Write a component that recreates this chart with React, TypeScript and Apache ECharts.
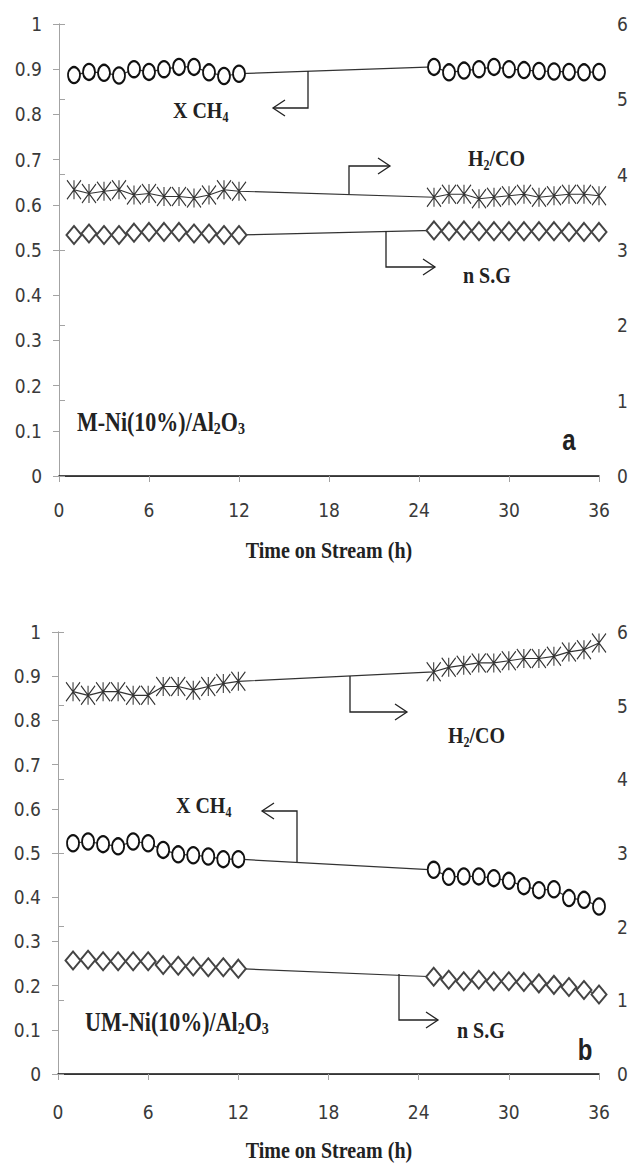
import React, { useEffect, useRef } from "react";
import * as echarts from "echarts";

const hours = [1, 2, 3, 4, 5, 6, 7, 8, 9, 10, 11, 12, 25, 26, 27, 28, 29, 30, 31, 32, 33, 34, 35, 36];

// Panel a: M-Ni(10%)/Al2O3
const xch4A = [0.887, 0.894, 0.892, 0.886, 0.9, 0.894, 0.9, 0.905, 0.905, 0.893, 0.885, 0.89, 0.905, 0.893, 0.897, 0.9, 0.905, 0.9, 0.898, 0.896, 0.895, 0.894, 0.893, 0.894];
const h2coA = [3.8, 3.75, 3.78, 3.8, 3.73, 3.75, 3.71, 3.71, 3.69, 3.73, 3.8, 3.78, 3.7, 3.74, 3.74, 3.68, 3.7, 3.72, 3.74, 3.7, 3.72, 3.74, 3.74, 3.72];
const nsgA = [3.2, 3.22, 3.2, 3.2, 3.23, 3.24, 3.24, 3.24, 3.22, 3.22, 3.2, 3.2, 3.26, 3.25, 3.26, 3.25, 3.25, 3.25, 3.25, 3.25, 3.25, 3.24, 3.24, 3.24];

// Panel b: UM-Ni(10%)/Al2O3
const xch4B = [0.522, 0.526, 0.52, 0.515, 0.526, 0.522, 0.507, 0.497, 0.495, 0.492, 0.486, 0.486, 0.462, 0.446, 0.447, 0.447, 0.443, 0.437, 0.425, 0.416, 0.418, 0.398, 0.394, 0.379];
const h2coB = [5.19, 5.14, 5.19, 5.19, 5.14, 5.14, 5.26, 5.26, 5.21, 5.26, 5.3, 5.33, 5.46, 5.52, 5.55, 5.58, 5.58, 5.61, 5.64, 5.64, 5.67, 5.73, 5.76, 5.85];
const nsgB = [1.54, 1.55, 1.53, 1.53, 1.53, 1.53, 1.48, 1.47, 1.46, 1.45, 1.45, 1.43, 1.32, 1.28, 1.26, 1.28, 1.26, 1.26, 1.25, 1.23, 1.21, 1.18, 1.14, 1.08];

const NARROW = "'Liberation Sans Narrow', 'DejaVu Sans Condensed', Arial, sans-serif";
const SERIF = "'Liberation Serif', 'Times New Roman', serif";
const SANS = "'Liberation Sans', Arial, sans-serif";
const AXIS_GRAY = "#a3a3a3";
const LABEL = "#3a3a3a";
const INK = "#222";

const ASTERISK = "path://M0,0 L10,14 M10,0 L0,14 M5,0 L5,14";

const pairs = (vals: number[]) => hours.map((h, i) => [h, vals[i]]);

function mkAxes(gi: number, xLabelMargin: number) {
  const bottomX = {
    type: "value",
    gridIndex: gi,
    position: "bottom",
    min: 0,
    max: 36,
    interval: 6,
    axisLine: { show: true, lineStyle: { color: AXIS_GRAY, width: 1 } },
    axisTick: { show: true, inside: false, length: 6, lineStyle: { color: AXIS_GRAY } },
    axisLabel: { margin: xLabelMargin, fontSize: 19, fontFamily: NARROW, color: LABEL },
    splitLine: { show: false },
  };
  const topX = {
    type: "value",
    gridIndex: gi,
    position: "top",
    min: 0,
    max: 36,
    interval: 6,
    axisLine: { show: true, lineStyle: { color: "#111", width: 1.5 } },
    axisTick: { show: false },
    axisLabel: { show: false },
    splitLine: { show: false },
  };
  const leftY = {
    type: "value",
    gridIndex: gi,
    position: "left",
    min: 0,
    max: 1,
    interval: 0.1,
    axisLine: { show: true, lineStyle: { color: AXIS_GRAY } },
    axisTick: { show: true, length: 6, lineStyle: { color: AXIS_GRAY } },
    axisLabel: {
      margin: 17,
      fontSize: 19,
      fontFamily: NARROW,
      color: LABEL,
      formatter: (v: number) => String(Math.round(v * 10) / 10),
    },
    splitLine: { show: false },
  };
  const rightY = {
    type: "value",
    gridIndex: gi,
    position: "right",
    min: 0,
    max: 6,
    interval: 1,
    axisLine: { show: true, lineStyle: { color: AXIS_GRAY } },
    axisTick: { show: true, length: 6, lineStyle: { color: AXIS_GRAY } },
    axisLabel: { margin: 18, fontSize: 19, fontFamily: NARROW, color: LABEL },
    splitLine: { show: false },
  };
  return { xs: [bottomX, topX], ys: [leftY, rightY] };
}

function circleSeries(vals: number[], xi: number, yi: number) {
  return {
    type: "line",
    xAxisIndex: xi,
    yAxisIndex: yi,
    data: pairs(vals),
    symbol: "emptyCircle",
    symbolSize: [12, 16],
    lineStyle: { color: "#333", width: 1.2 },
    itemStyle: { color: "#111", borderColor: "#111", borderWidth: 2.7 },
    z: 5,
  };
}
function diamondSeries(vals: number[], xi: number, yi: number) {
  return {
    type: "line",
    xAxisIndex: xi,
    yAxisIndex: yi,
    data: pairs(vals),
    symbol: "emptyDiamond",
    symbolSize: [15, 18],
    lineStyle: { color: "#333", width: 1.2 },
    itemStyle: { color: "#444", borderColor: "#444", borderWidth: 1.2 },
    z: 4,
  };
}
function starSeries(vals: number[], xi: number, yi: number) {
  return {
    type: "line",
    xAxisIndex: xi,
    yAxisIndex: yi,
    data: pairs(vals),
    symbol: ASTERISK,
    symbolSize: [14, 19],
    lineStyle: { color: "#333", width: 1.2 },
    itemStyle: { color: "rgba(0,0,0,0)", borderColor: "#333", borderWidth: 1.2 },
    z: 4,
  };
}

function label(text: string, x: number, y: number, size = 20) {
  return {
    type: "text",
    x,
    y,
    scaleY: 1.2,
    style: {
      text,
      fontFamily: SERIF,
      fontWeight: "bold",
      fontSize: size,
      fill: INK,
      lineHeight: 24,
      verticalAlign: "middle",
      rich: {
        s: { fontSize: Math.round(size * 0.62), fontFamily: SERIF, fontWeight: "bold", fill: INK, lineHeight: 13, verticalAlign: "bottom" },
      },
    },
    z: 10,
  };
}
function centered(text: string, x: number, y: number, size: number, family: string, scaleY = 1.2) {
  return {
    type: "text",
    x,
    y,
    scaleY,
    style: { text, fontFamily: family, fontWeight: "bold", fontSize: size, fill: INK, align: "center", verticalAlign: "middle" },
    z: 10,
  };
}

function poly(points: number[][]) {
  return { type: "polyline", shape: { points }, style: { stroke: INK, lineWidth: 1.3, fill: "none" }, z: 10 };
}
function arrowRight(x: number, y: number) {
  return poly([[x - 12, y - 8], [x, y], [x - 12, y + 8]]);
}
function arrowLeft(x: number, y: number) {
  return poly([[x + 12, y - 8], [x, y], [x + 12, y + 8]]);
}

export default function App() {
  const ref = useRef<HTMLDivElement>(null);
  useEffect(() => {
    document.body.style.margin = "0";
    if (!ref.current) return;
    const chart = echarts.init(ref.current, undefined, { renderer: "svg" });
    const a = mkAxes(0, 24);
    const b = mkAxes(1, 28);
    const option: any = {
      animation: false,
      backgroundColor: "#fff",
      grid: [
        { left: 59, top: 24, width: 540, height: 452 },
        { left: 58, top: 632, width: 541, height: 442 },
      ],
      xAxis: [...a.xs, ...b.xs],
      yAxis: [...a.ys, ...b.ys],
      series: [
        circleSeries(xch4A, 0, 0),
        starSeries(h2coA, 0, 1),
        diamondSeries(nsgA, 0, 1),
        starSeries(h2coB, 2, 3),
        circleSeries(xch4B, 2, 2),
        diamondSeries(nsgB, 2, 3),
      ],
      graphic: [
        // Panel a annotations
        poly([[308, 71], [308, 108], [273, 108]]),
        arrowLeft(273, 108),
        label("X CH{s|4}", 173, 110),
        poly([[349, 194], [349, 166], [390, 166]]),
        arrowRight(390, 166),
        label("H{s|2}/CO", 468, 158),
        poly([[386, 231], [386, 267], [435, 267]]),
        arrowRight(435, 267),
        label("n S.G", 463, 275),
        label("M-Ni(10%)/Al{s|2}O{s|3}", 77, 422, 22),
        centered("a", 569, 440, 24, SANS),
        centered("Time on Stream (h)", 329, 550, 20, SERIF),
        // Panel b annotations
        poly([[350, 676], [350, 712], [407, 712]]),
        arrowRight(407, 712),
        label("H{s|2}/CO", 448, 735),
        poly([[297, 862], [297, 811], [262, 811]]),
        arrowLeft(262, 811),
        label("X CH{s|4}", 176, 805),
        poly([[399, 974], [399, 1020], [438, 1020]]),
        arrowRight(438, 1020),
        label("n S.G", 457, 1030),
        label("UM-Ni(10%)/Al{s|2}O{s|3}", 85, 1022, 22),
        centered("b", 585, 1050, 24, SANS),
        centered("Time on Stream (h)", 329, 1150, 20, SERIF),
      ],
    };
    chart.setOption(option);
    return () => chart.dispose();
  }, []);
  return <div ref={ref} style={{ width: 631, height: 1164 }} />;
}
